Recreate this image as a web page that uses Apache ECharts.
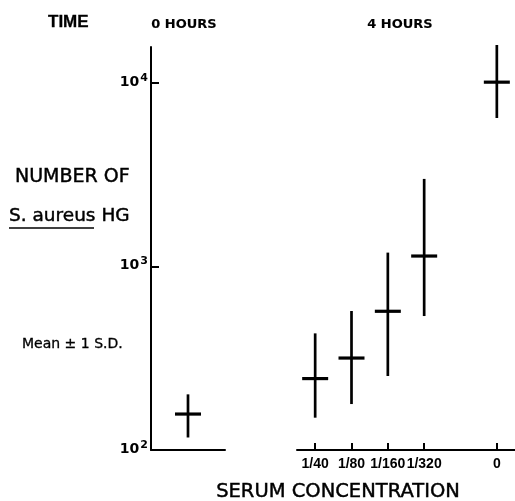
<!DOCTYPE html>
<html>
<head>
<meta charset="utf-8">
<script src="https://cdn.jsdelivr.net/npm/echarts@6/dist/echarts.min.js"></script>
<style>
html,body{margin:0;padding:0;background:#fff;}
#chart{width:515px;height:501px;}
</style>
</head>
<body>
<div id="chart"></div>
<script>
// ---- data ----
var categories0h = ['0'];
var mean0h = [157];
var low0h  = [117];
var high0h = [201];

var categories4h = ['1/40', '1/80', '1/160', '1/320', '', '0'];
var mean4h = [245, 317, 570, 1140, null, 10100];
var low4h  = [150, 178, 253, 537, null, 6440];
var high4h = [432, 572, 1190, 3000, null, 16100];

var yTickValues = [100, 1000, 10000];
var yMin = 100;
var yMax = 15700;

// ---- build ----
function build(means, lows, highs) {
  var out = [];
  for (var i = 0; i < means.length; i++) {
    if (means[i] == null) continue;
    out.push([i, means[i], lows[i], highs[i]]);
  }
  return out;
}

var FONT = '"DejaVu Sans", "Liberation Sans", sans-serif';
var FONT2 = '"Liberation Sans", Arial, sans-serif';

function renderErrorBar(params, api) {
  var x = api.value(0);
  var pm = api.coord([x, api.value(1)]);
  var pl = api.coord([x, api.value(2)]);
  var ph = api.coord([x, api.value(3)]);
  var half = 13;
  return {
    type: 'group',
    children: [
      { type: 'line', shape: { x1: pm[0], y1: ph[1], x2: pm[0], y2: pl[1] },
        style: { stroke: '#000', lineWidth: 2.7 } },
      { type: 'line', shape: { x1: pm[0] - half, y1: pm[1], x2: pm[0] + half, y2: pm[1] },
        style: { stroke: '#000', lineWidth: 3.2 } }
    ]
  };
}

function txt(x, y, text, font, align, stroke) {
  return { type: 'text', x: x, y: y, style: { text: text, fill: '#000',
    stroke: '#000', lineWidth: stroke || 0.45,
    font: font, align: align, verticalAlign: 'middle' } };
}

var chart = echarts.init(document.getElementById('chart'), null, { renderer: 'canvas' });

var option = {
  backgroundColor: '#fff',
  animation: false,
  grid: [
    { left: 151, right: 290, top: 47, bottom: 51 },
    { left: 297, right: 0, top: 47, bottom: 51 }
  ],
  xAxis: [
    { type: 'category', gridIndex: 0, data: categories0h, boundaryGap: true,
      axisLine: { show: true, lineStyle: { color: '#000', width: 2 } },
      axisTick: { show: false }, axisLabel: { show: false }, splitLine: { show: false } },
    { type: 'category', gridIndex: 1, data: categories4h, boundaryGap: true,
      axisLine: { show: true, lineStyle: { color: '#000', width: 2 } },
      axisTick: { show: true, inside: true, length: 7, alignWithLabel: true,
        interval: function (idx, val) { return val !== ''; },
        lineStyle: { color: '#000', width: 2 } },
      axisLabel: { show: true, interval: 0, margin: 7, color: '#000',
        fontFamily: FONT2, fontWeight: 'bold', fontSize: 14 },
      splitLine: { show: false } }
  ],
  yAxis: [
    { type: 'log', logBase: 10, gridIndex: 0, min: yMin, max: yMax,
      axisLine: { show: true, lineStyle: { color: '#000', width: 2 } },
      axisTick: { show: true, inside: true, length: 8, lineStyle: { color: '#000', width: 2 },
        customValues: yTickValues.slice(1) },
      axisLabel: { show: true, margin: 3, customValues: yTickValues,
        fontFamily: FONT, fontWeight: 'bold', fontSize: 14, color: '#000',
        formatter: function (v) {
          var e = Math.round(Math.log(v) / Math.LN10);
          return '{b|10}{s|' + e + '}';
        },
        rich: {
          b: { fontFamily: FONT, fontWeight: 'bold', fontSize: 14, color: '#000',
               padding: [0, 0, 2, 0] },
          s: { fontFamily: FONT, fontWeight: 'bold', fontSize: 11, color: '#000',
               verticalAlign: 'bottom', padding: [0, 0, 10, 1] }
        } },
      splitLine: { show: false } },
    { type: 'log', logBase: 10, gridIndex: 1, min: yMin, max: yMax, show: false,
      splitLine: { show: false } }
  ],
  series: [
    { type: 'custom', xAxisIndex: 0, yAxisIndex: 0, clip: false,
      renderItem: renderErrorBar, encode: { x: 0, y: [1, 2, 3] },
      data: build(mean0h, low0h, high0h) },
    { type: 'custom', xAxisIndex: 1, yAxisIndex: 1, clip: false,
      renderItem: renderErrorBar, encode: { x: 0, y: [1, 2, 3] },
      data: build(mean4h, low4h, high4h) }
  ],
  graphic: [
    txt(48, 22, 'TIME', 'bold 17px ' + FONT2, 'left', 0.3),
    txt(184, 25, '0 HOURS', 'bold 13px ' + FONT, 'center', 0.1),
    txt(400, 25, '4 HOURS', 'bold 13px ' + FONT, 'center', 0.1),
    txt(15, 177, 'NUMBER OF', '19px ' + FONT, 'left'),
    txt(9, 216, 'S. aureus HG', '18.5px ' + FONT, 'left'),
    { type: 'line', shape: { x1: 9, y1: 228, x2: 94, y2: 228 },
      style: { stroke: '#000', lineWidth: 1.6 } },
    txt(22, 344, 'Mean \u00b1 1 S.D.', '14px ' + FONT, 'left', 0.3),
    txt(338, 492, 'SERUM CONCENTRATION', '19.5px ' + FONT, 'center')
  ]
};

chart.setOption(option);
</script>
</body>
</html>
